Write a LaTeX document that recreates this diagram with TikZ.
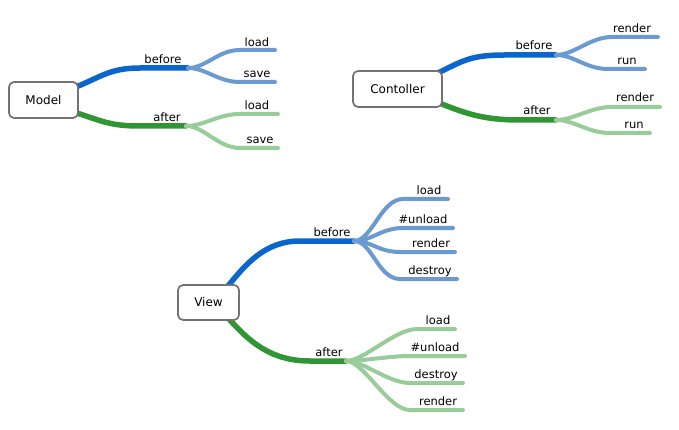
\documentclass[tikz,border=0pt]{standalone}
\usepackage{fontspec}
\setmainfont{DejaVu Sans}
\usetikzlibrary{calc,backgrounds}
\definecolor{darkblue}{HTML}{0A66CC}
\definecolor{paleblue}{HTML}{6A9AD0}
\definecolor{darkgreen}{HTML}{2F9633}
\definecolor{palegreen}{HTML}{98CC98}
\def\twig[#1](#2)(#3)(#4){\draw[#1] (#2) .. controls +(18,0) and +(-22,0) .. (#3,0 |- #4) -- (#4);}

\tikzset{
	topic/.style={draw=black!55, line width=1.7pt, rounded corners=5pt, fill=white, inner sep=0pt, font=\fontsize{12}{14}\selectfont},
	limb/.style={line width=5.5pt, line cap=round},
	leaf/.style={line width=4pt, line cap=round},
	lbl/.style={anchor=base, inner sep=0pt, font=\fontsize{11.5}{14}\selectfont},
}

\begin{document}
\begin{tikzpicture}[x=1pt, y=-1pt]
			%%%%% START %%%%%
			\useasboundingbox (0,0) rectangle (679,430);
			
			\node[topic, minimum width=69, minimum height=36] (model) at (43.5,100) {Model};
			\node[topic, minimum width=89, minimum height=36] (ctrl) at (397.5,89) {Contoller};
			\node[topic, minimum width=61, minimum height=35] (view) at (208.5,302.5) {View};
			
			% split points
			\coordinate (mb) at (188,68);
			\coordinate (mg) at (186,126);
			\coordinate (cb) at (556,55);
			\coordinate (cg) at (556,120);
			\coordinate (vb) at (354,241);
			\coordinate (vg) at (346,361);
			
			% leaf ends
			\coordinate (mbl) at (275,50);
			\coordinate (mbs) at (275,82);
			\coordinate (mgl) at (278,114);
			\coordinate (mgs) at (278,148);
			\coordinate (cbr) at (658,37);
			\coordinate (cbu) at (645,69);
			\coordinate (cgr) at (660,107);
			\coordinate (cgu) at (650,133);
			\coordinate (vbl) at (448,199);
			\coordinate (vbn) at (453,228);
			\coordinate (vbr) at (455,252);
			\coordinate (vbd) at (457,279);
			\coordinate (vgl) at (455,329);
			\coordinate (vgn) at (465,356);
			\coordinate (vgd) at (463,383);
			\coordinate (vgr) at (463,410);
			
			\begin{scope}[on background layer]
			% Model
			\draw[limb, darkblue] ($(model.east)+(-3,-13)$) .. controls +(25,-10) and +(-30,0) .. (140,68) -- (mb);
			\draw[limb, darkgreen] ($(model.east)+(-2,13)$) .. controls +(25,8) and +(-30,0) .. (140,126) -- (mg);
			\twig[leaf, paleblue](mb)(240)(mbl)
			\twig[leaf, paleblue](mb)(240)(mbs)
			\twig[leaf, palegreen](mg)(240)(mgl)
			\twig[leaf, palegreen](mg)(240)(mgs)
			
			% Contoller
			\draw[limb, darkblue] ($(ctrl.east)+(-5,-16)$) .. controls +(25,-12) and +(-35,0) .. (505,55) -- (cb);
			\draw[limb, darkgreen] ($(ctrl.east)+(-1,15)$) .. controls +(25,10) and +(-35,0) .. (520,120) -- (cg);
			\twig[leaf, paleblue](cb)(612)(cbr)
			\twig[leaf, paleblue](cb)(608)(cbu)
			\twig[leaf, palegreen](cg)(612)(cgr)
			\twig[leaf, palegreen](cg)(610)(cgu)
			
			% View
			\draw[limb, darkblue] ($(view.north east)+(-12,2)$) .. controls +(18,-22) and +(-35,0) .. (300,241) -- (vb);
			\draw[limb, darkgreen] ($(view.south east)+(-11,-2)$) .. controls +(20,22) and +(-40,0) .. (310,361) -- (vg);
			\twig[leaf, paleblue](vb)(403)(vbl)
			\twig[leaf, paleblue](vb)(403)(vbn)
			\twig[leaf, paleblue](vb)(400)(vbr)
			\twig[leaf, paleblue](vb)(400)(vbd)
			\twig[leaf, palegreen](vg)(417)(vgl)
			\twig[leaf, palegreen](vg)(410)(vgn)
			\twig[leaf, palegreen](vg)(410)(vgd)
			\twig[leaf, palegreen](vg)(410)(vgr)
			\end{scope}
			
			% labels
			\node[lbl] (mbefore) at (163,64) {before};
			\node[lbl] (mafter) at (167,121.5) {after};
			\node[lbl] (mload1) at (257,46.5) {load};
			\node[lbl] (msave1) at (257,78) {save};
			\node[lbl] (mload2) at (257,109.5) {load};
			\node[lbl] (msave2) at (260,143.5) {save};
			
			\node[lbl] (cbefore) at (534,50) {before};
			\node[lbl] (cafter) at (537,114.5) {after};
			\node[lbl] (crender1) at (632,32.5) {render};
			\node[lbl] (crun1) at (627,64.5) {run};
			\node[lbl] (crender2) at (635,102) {render};
			\node[lbl] (crun2) at (634,128.5) {run};
			
			\node[lbl] (vbefore) at (332,236.5) {before};
			\node[lbl] (vafter) at (329,356.5) {after};
			\node[lbl] (vload1) at (429,194.5) {load};
			\node[lbl] (vunload1) at (423,223.5) {\#unload};
			\node[lbl] (vrender1) at (431,247.5) {render};
			\node[lbl] (vdestroy1) at (430,274.5) {destroy};
			\node[lbl] (vload2) at (438,324.5) {load};
			\node[lbl] (vunload2) at (435,351.5) {\#unload};
			\node[lbl] (vdestroy2) at (436,378.5) {destroy};
			\node[lbl] (vrender2) at (438,405.5) {render};
			
			%%%%% END %%%%%
\end{tikzpicture}
\end{document}
